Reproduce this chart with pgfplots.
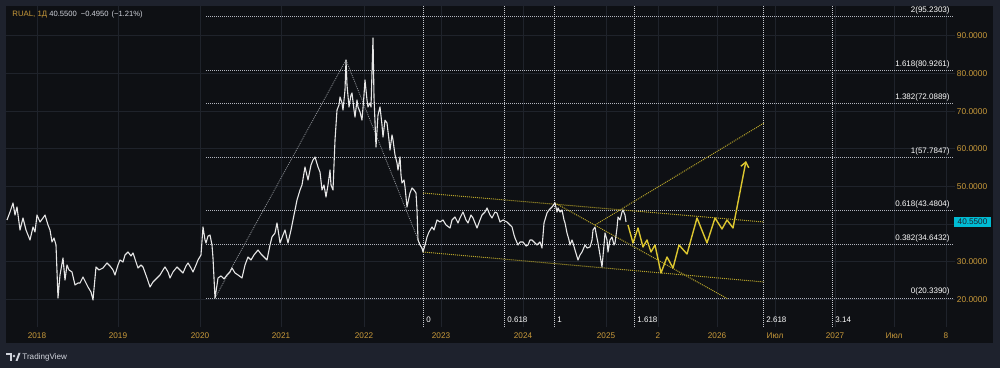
\documentclass[border=0pt]{standalone}
\usepackage{pgfplots}
\pgfplotsset{compat=1.18}
\usepackage{fontspec}
\setmainfont{Liberation Sans}
\usetikzlibrary{arrows.meta}
\definecolor{outerbg}{HTML}{1E222D}
\definecolor{panebg}{HTML}{0E1014}
\definecolor{gridc}{HTML}{1F232B}
\definecolor{gold}{HTML}{C99A3A}
\definecolor{fibc}{HTML}{B2B5BE}
\definecolor{ftime}{HTML}{C8CAD0}
\definecolor{diagc}{HTML}{8A8D93}
\definecolor{ydot}{HTML}{B8A52A}
\definecolor{yproj}{HTML}{DCC630}
\definecolor{pricec}{HTML}{E6E6E6}
\definecolor{cyanbox}{HTML}{00BCD4}
\definecolor{logoc}{HTML}{D1D4DC}
\begin{document}
\begin{tikzpicture}[x=0.5pt,y=0.5pt]
\useasboundingbox (0,0) rectangle (1000,368);
\fill[outerbg] (0,0) rectangle (1000,368);
\fill[panebg] (6,25) rectangle (993,362);
\begin{axis}[
  at={(3pt,20.5pt)}, anchor=south west,
  scale only axis, width=474.5pt, height=160.5pt,
  xmin=6, xmax=955, ymin=12.63, ymax=97.94,
  axis line style={draw=none}, major tick length=0pt,
  xtick={37,118,200,281,364,441,523,606,658,717,775,835,894,946},
  xticklabels={2018,2019,2020,2021,2022,2023,2024,2025,2,2026,Июл,2027,Июл,8},
  ytick={20,30,40,50,60,70,80,90},
  yticklabels={20.0000,30.0000,,50.0000,60.0000,70.0000,80.0000,90.0000},
  yticklabel pos=right,
  xticklabel style={anchor=center, yshift=-4.5pt, font=\fontsize{4.1}{5}\selectfont, text=gold},
  yticklabel style={anchor=center, xshift=8.5pt, font=\fontsize{4.2}{5}\selectfont, text=gold},
  grid=major, major grid style={gridc, line width=0.5pt},
]
% Fibonacci retracement levels
\addplot[fibc, line width=0.45pt, dash pattern=on 0.5pt off 0.5pt] coordinates {(206,95.2303) (954,95.2303)};
\addplot[fibc, line width=0.45pt, dash pattern=on 0.5pt off 0.5pt] coordinates {(206,80.9261) (954,80.9261)};
\addplot[fibc, line width=0.45pt, dash pattern=on 0.5pt off 0.5pt] coordinates {(206,72.0889) (954,72.0889)};
\addplot[fibc, line width=0.45pt, dash pattern=on 0.5pt off 0.5pt] coordinates {(206,57.7847) (954,57.7847)};
\addplot[fibc, line width=0.45pt, dash pattern=on 0.5pt off 0.5pt] coordinates {(206,43.4804) (954,43.4804)};
\addplot[fibc, line width=0.45pt, dash pattern=on 0.5pt off 0.5pt] coordinates {(206,34.6432) (954,34.6432)};
\addplot[fibc, line width=0.45pt, dash pattern=on 0.5pt off 0.5pt] coordinates {(206,20.339) (954,20.339)};
% Fibonacci time zones
\addplot[ftime, line width=0.45pt, dash pattern=on 0.5pt off 0.5pt] coordinates {(423,12.63) (423,97.94)};
\addplot[ftime, line width=0.45pt, dash pattern=on 0.5pt off 0.5pt] coordinates {(504,12.63) (504,97.94)};
\addplot[ftime, line width=0.45pt, dash pattern=on 0.5pt off 0.5pt] coordinates {(554,12.63) (554,97.94)};
\addplot[ftime, line width=0.45pt, dash pattern=on 0.5pt off 0.5pt] coordinates {(634,12.63) (634,97.94)};
\addplot[ftime, line width=0.45pt, dash pattern=on 0.5pt off 0.5pt] coordinates {(763,12.63) (763,97.94)};
\addplot[ftime, line width=0.45pt, dash pattern=on 0.5pt off 0.5pt] coordinates {(832,12.63) (832,97.94)};
% Fib tool diagonals
\addplot[diagc, line width=0.4pt, dash pattern=on 0.5pt off 0.5pt] coordinates {(215,20.34) (346,83.58) (423,32.56)};
% Yellow channel / trend lines
\addplot[ydot, line width=0.5pt, dash pattern=on 0.5pt off 0.5pt] coordinates {(423,48.24) (764,40.53)};
\addplot[ydot, line width=0.5pt, dash pattern=on 0.5pt off 0.5pt] coordinates {(423,32.56) (764,24.59)};
\addplot[ydot, line width=0.5pt, dash pattern=on 0.5pt off 0.5pt] coordinates {(555,45.58) (728,20.07)};
\addplot[ydot, line width=0.5pt, dash pattern=on 0.5pt off 0.5pt] coordinates {(595,39.74) (764,66.84)};
% Price
\addplot[pricec, line width=0.55pt, line join=round] coordinates {
(7,41.07) (10,43.19) (13,45.58) (15,42.39) (17,44.52) (20,38.41) (23,41.6) (26,38.41) (30,35.75) (33,39.21)
(35,37.9) (37,42.39) (40,40.53) (43,41.6) (45,42.39) (48,39.74) (50,38.41) (52,35.22) (54,36.28) (56,34.42)
(58,20.34) (60,26.45) (63,30.97) (65,25.12) (67,29.11) (69,27.78) (72,27.25) (75,23.79) (78,24.32) (80,24.32)
(83,25.92) (86,24.32) (88,23.26) (91,21.93) (93,19.81) (96,28.58) (99,27.78) (103,28.31) (107,29.64) (110,28.84)
(113,27.78) (115,26.45) (118,29.11) (120,30.44) (123,29.9) (125,31.77) (128,32.56) (131,31.5) (133,32.3) (136,29.9)
(138,28.31) (141,29.11) (143,28.58) (147,25.65) (150,23.26) (153,24.59) (157,25.65) (160,26.45) (163,27.78) (165,28.58)
(168,27.25) (170,25.65) (173,27.25) (177,28.58) (180,27.78) (183,26.98) (186,28.84) (188,29.64) (191,28.31) (193,27.25)
(196,29.11) (198,30.44) (201,31.77) (203,39.21) (205,35.75) (206,34.95) (208,36.8) (210,37.08) (212,34.42) (213,30.97)
(215,20.34) (217,23.79) (218,25.65) (221,26.2) (224,25.4) (227,26.45) (230,27.25) (232,28.31) (235,26.98) (238,26.45)
(242,25.65) (245,29.11) (248,31.23) (251,30.44) (254,31.77) (258,33.09) (261,32.03) (264,31.23) (267,30.44) (270,34.42)
(272,36.55) (275,37.61) (277,40.27) (279,36.8) (280,34.95) (283,37.08) (285,38.41) (288,34.95) (291,38.41) (293,41.07)
(295,43.72) (297,46.38) (300,49.04) (302,50.37) (305,55.15) (308,51.7) (311,55.68) (313,57.01) (315,57.81) (318,55.15)
(320,53.82) (322,49.04) (324,50.37) (326,47.18) (328,50.37) (330,54.35) (331,50.37) (333,49.04) (335,62.3) (337,70.3)
(339,71.63) (340,73.75) (342,72.16) (343,70.3) (345,75.61) (346,83.58) (347,76.94) (349,71.1) (351,74.28) (352,74.82)
(354,70.3) (355,68.4) (357,72.96) (358,71.1) (360,69.77) (362,67.6) (364,74.28) (365,78.27) (367,72.96) (368,71.1)
(370,72.16) (371,71.1) (373,89.43) (374,73.75) (376,60.46) (378,68.97) (380,71.1) (382,66.31) (383,63.12) (385,67.6)
(387,66.84) (389,62.3) (390,59.67) (392,63.66) (393,62.3) (395,58.34) (397,56.21) (398,54.35) (400,57.81) (401,53.02)
(402,50.9) (404,51.7) (405,49.84) (407,44.52) (410,48.24) (412,49.57) (414,49.04) (416,48.24) (417,43.72) (418,35.75)
(420,34.42) (422,33.62) (423,32.56) (425,34.42) (427,36.55) (429,37.88) (432,39.21) (434,38.41) (437,41.07) (440,40.53)
(443,41.07) (446,39.74) (450,38.94) (452,41.07) (455,41.86) (458,40.27) (460,41.6) (463,43.19) (466,41.07) (468,40.27)
(471,42.39) (473,41.6) (477,38.94) (480,41.07) (482,42.39) (485,43.19) (487,44.26) (490,42.39) (492,41.6) (495,43.19)
(497,42.93) (500,40.53) (503,41.07) (507,40.53) (510,39.74) (512,39.21) (514,37.08) (515,36.28) (518,34.42) (520,35.22)
(523,35.22) (526,34.15) (528,34.42) (530,35.75) (532,35.75) (535,34.95) (537,34.42) (540,35.22) (542,33.62) (544,40.27)
(547,42.93) (549,43.72) (552,44.52) (555,45.58) (557,43.19) (558,44.26) (560,43.19) (562,43.72) (564,41.07) (565,40.27)
(567,37.61) (569,35.75) (570,34.42) (572,35.75) (573,34.95) (575,33.09) (578,30.44) (580,31.77) (582,32.56) (585,34.42)
(587,33.62) (590,33.89) (592,35.75) (593,38.41) (595,39.21) (596,37.61) (598,34.95) (600,31.77) (602,28.58) (604,34.42)
(605,37.61) (607,35.75) (608,32.56) (610,35.75) (612,36.55) (614,34.42) (615,34.95) (617,38.94) (618,41.86) (620,41.07)
(622,43.19) (623,43.72) (625,42.39) (626,40.55)
};
% Projection
\addplot[yproj, line width=0.7pt, line join=round, -{Straight Barb[length=2.5pt,width=4pt]}] coordinates {
(628,39.74) (633,34.95) (638,38.94) (643,33.89) (647,35.75) (651,32.56) (655,34.42) (661,26.98) (667,31.23) (673,28.31)
(679,34.42) (687,32.03) (697,41.6) (707,34.95) (715,41.6) (722,38.68) (727,41.07) (733,38.94) (746,56.74)
};
% Fib level labels
\node[anchor=base east, inner sep=0pt, yshift=2pt, text=white, font=\fontsize{4}{5}\selectfont] at (axis cs:950,95.2303) {2(95.2303)};
\node[anchor=base east, inner sep=0pt, yshift=2pt, text=white, font=\fontsize{4}{5}\selectfont] at (axis cs:950,80.9261) {1.618(80.9261)};
\node[anchor=base east, inner sep=0pt, yshift=2pt, text=white, font=\fontsize{4}{5}\selectfont] at (axis cs:950,72.0889) {1.382(72.0889)};
\node[anchor=base east, inner sep=0pt, yshift=2pt, text=white, font=\fontsize{4}{5}\selectfont] at (axis cs:950,57.7847) {1(57.7847)};
\node[anchor=base east, inner sep=0pt, yshift=2pt, text=white, font=\fontsize{4}{5}\selectfont] at (axis cs:950,43.4804) {0.618(43.4804)};
\node[anchor=base east, inner sep=0pt, yshift=2pt, text=white, font=\fontsize{4}{5}\selectfont] at (axis cs:950,34.6432) {0.382(34.6432)};
\node[anchor=base east, inner sep=0pt, yshift=2pt, text=white, font=\fontsize{4}{5}\selectfont] at (axis cs:950,20.339) {0(20.3390)};
% Fib time zone labels
\node[anchor=west, inner sep=0pt, xshift=1.5pt, text=white, font=\fontsize{4}{5}\selectfont] at (axis cs:423,14.49) {0};
\node[anchor=west, inner sep=0pt, xshift=1.5pt, text=white, font=\fontsize{4}{5}\selectfont] at (axis cs:504,14.49) {0.618};
\node[anchor=west, inner sep=0pt, xshift=1.5pt, text=white, font=\fontsize{4}{5}\selectfont] at (axis cs:554,14.49) {1};
\node[anchor=west, inner sep=0pt, xshift=1.5pt, text=white, font=\fontsize{4}{5}\selectfont] at (axis cs:634,14.49) {1.618};
\node[anchor=west, inner sep=0pt, xshift=1.5pt, text=white, font=\fontsize{4}{5}\selectfont] at (axis cs:763,14.49) {2.618};
\node[anchor=west, inner sep=0pt, xshift=1.5pt, text=white, font=\fontsize{4}{5}\selectfont] at (axis cs:832,14.49) {3.14};
\end{axis}
% Last price box
\fill[cyanbox] (954,141) rectangle (991,151);
\node[inner sep=0pt, text=outerbg, font=\fontsize{4.1}{5}\selectfont] at (972.5,146) {40.5500};
% Legend / title
\node[anchor=west, inner sep=0pt, text=gold, font=\fontsize{3.9}{5}\selectfont] at (12,353) {RUAL, 1Д};
\node[anchor=west, inner sep=0pt, text=logoc, font=\fontsize{3.8}{5}\selectfont] at (49,353) {40.5500\hspace{2pt}−0.4950\hspace{1.5pt}(−1.21\%)};
% TradingView footer
\fill[logoc] (6,15) rectangle (12,12.5);
\fill[logoc] (9.5,15) rectangle (12,7);
\fill[logoc] (14,12) circle (1.3);
\fill[logoc] (15.5,7) -- (18.5,15) -- (20.5,15) -- (17.5,7) -- cycle;
\node[anchor=west, inner sep=0pt, text=logoc, font=\fontsize{4.05}{5}\selectfont] at (22,11) {TradingView};
\end{tikzpicture}
\end{document}
